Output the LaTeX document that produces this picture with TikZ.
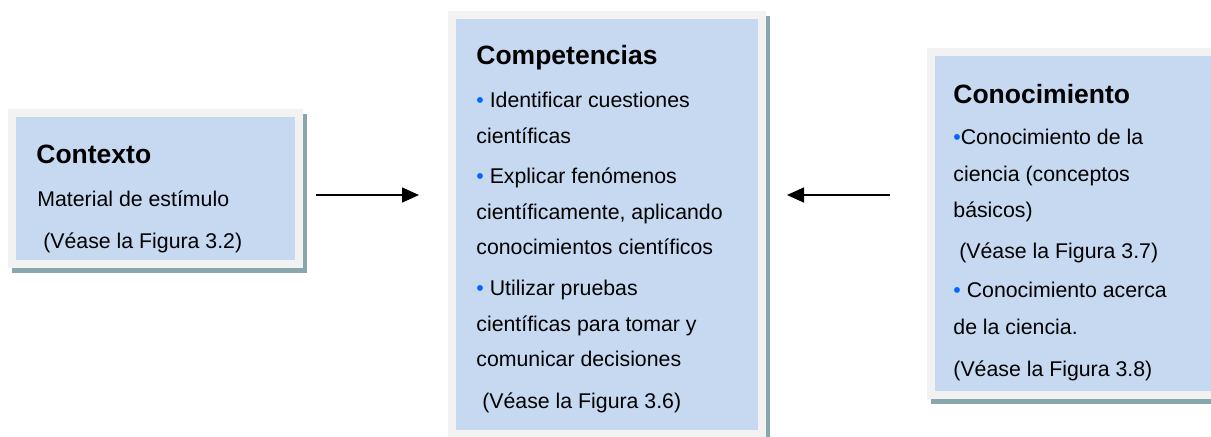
\documentclass[tikz,border=0pt]{standalone}
\usepackage{fontspec}
\setmainfont{Liberation Sans}
\usepackage{tikz}
\usetikzlibrary{arrows.meta,shadows}
\definecolor{cajaazul}{RGB}{198,217,241}
\definecolor{marcogris}{RGB}{242,242,242}
\definecolor{sombra}{RGB}{138,166,173}
\definecolor{azulvineta}{RGB}{0,102,255}
\newcommand{\vineta}{\textcolor{azulvineta}{•}}
\tikzstyle{caja}=[rectangle,fill=marcogris,inner sep=0pt,outer sep=0pt,
                  drop shadow={shadow xshift=2pt,shadow yshift=-2.5pt,
                               fill=sombra,opacity=1},
                  path picture={\fill[cajaazul]
                    ([shift={(4pt,-4pt)}]path picture bounding box.north west)
                    rectangle
                    ([shift={(-4pt,4pt)}]path picture bounding box.south east);}]
\tikzstyle{texto}=[anchor=base west,inner sep=0pt,
                   font=\fontsize{10.65}{12}\selectfont]
\tikzstyle{titulo}=[anchor=base west,inner sep=0pt,
                    font=\fontsize{13.25}{15}\selectfont\bfseries]
\tikzstyle{flecha}=[line width=0.8pt,-{Triangle[length=8.5pt,width=7.5pt]}]

\begin{document}
\begin{tikzpicture}[x=0.5pt,y=-0.5pt]
    \useasboundingbox (0,0) rectangle (1211,436);
    \clip (0,0) rectangle (1211,436);
    % cajas
    \node (ctx) at (155.5,188.5) [caja,minimum width=147.5pt,minimum height=79.5pt]{};
    \node (comp) at (607,224.5) [caja,minimum width=159pt,minimum height=213.5pt]{};
    \node (conoc) at (1077,223.5) [caja,minimum width=150pt,minimum height=175.5pt]{};
    % contexto
    \node (ctx-t) at (36,163) [titulo]{Contexto};
    \node (ctx-1) at (37,206) [texto]{Material de estímulo};
    \node (ctx-2) at (37,248) [texto]{\ (Véase la Figura 3.2)};
    % competencias
    \node (comp-t) at (476,64) [titulo]{Competencias};
    \node (comp-1) at (476,107) [texto]{\vineta{} Identificar cuestiones};
    \node (comp-2) at (476,143) [texto]{científicas};
    \node (comp-3) at (476,183) [texto]{\vineta{} Explicar fenómenos};
    \node (comp-4) at (476,219) [texto]{científicamente, aplicando};
    \node (comp-5) at (476,254) [texto]{conocimientos científicos};
    \node (comp-6) at (476,295) [texto]{\vineta{} Utilizar pruebas};
    \node (comp-7) at (476,331) [texto]{científicas para tomar y};
    \node (comp-8) at (476,366) [texto]{comunicar decisiones};
    \node (comp-9) at (476,408) [texto]{\ (Véase la Figura 3.6)};
    % conocimiento
    \node (con-t) at (953,103) [titulo]{Conocimiento};
    \node (con-1) at (953,144) [texto]{\vineta{}Conocimiento de la};
    \node (con-2) at (953,181) [texto]{ciencia (conceptos};
    \node (con-3) at (953,217) [texto]{básicos)};
    \node (con-4) at (953,258) [texto]{\ (Véase la Figura 3.7)};
    \node (con-5) at (953,297) [texto]{\vineta{} Conocimiento acerca};
    \node (con-6) at (953,334) [texto]{de la ciencia.};
    \node (con-7) at (953,376) [texto]{(Véase la Figura 3.8)};
    % flechas
    \coordinate (nivel) at (0,195);
    \draw[flecha,shorten <=6.5pt,shorten >=14.5pt] (ctx.east |- nivel) -- (comp.west |- nivel);
    \draw[flecha,shorten <=18.5pt,shorten >=10.5pt] (conoc.west |- nivel) -- (comp.east |- nivel);
\end{tikzpicture}
\end{document}
